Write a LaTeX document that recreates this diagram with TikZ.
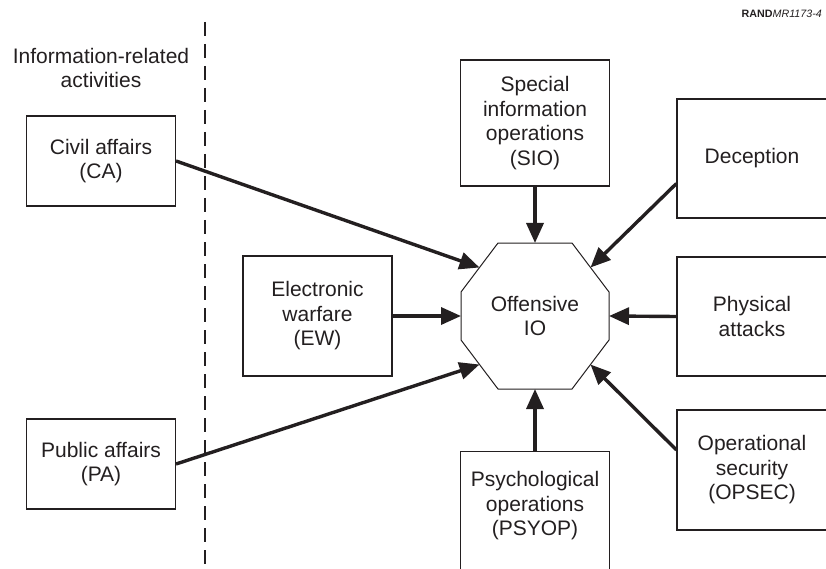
\documentclass[tikz,border=0pt]{standalone}
\usepackage{fontspec}
\setmainfont{Liberation Sans}
\usetikzlibrary{arrows.meta,calc}
\definecolor{ink}{RGB}{35,31,32}
\begin{document}
\begin{tikzpicture}[x=1pt,y=-1pt,
  lbl/.style={font=\fontsize{21}{24.5}\selectfont, text=ink, align=center, inner sep=0pt},
  box/.style={lbl, draw=ink, line width=1.1pt, rectangle, minimum width=149pt},
  feed/.style={draw=ink, line width=3.4pt, -{Triangle[length=20pt,width=17pt]}},
  divider/.style={draw=ink, line width=1.1pt, dash pattern=on 14pt off 8pt}]
\useasboundingbox (0,0) rectangle (826,569);
\clip (0,0) rectangle (826,569);

% tag in the corner
\node[anchor=base east, font=\fontsize{10.7}{12}\selectfont, text=ink, inner sep=0pt] (tag) at (822,18)
  {\textbf{RAND}\textit{MR1173-4}};

% divider between related activities and IO components
\coordinate (dtop) at (205,22);
\coordinate (dbot) at (205,575);
\draw[divider] (dtop) -- (dbot);
\node[lbl] (irl) at (101,68) {Information-related\\activities};

% related activities
\node[box, minimum height=90pt] (ca) at (101,161) {Civil affairs\\(CA)};
\node[box, minimum height=90pt] (pa) at (101,464) {Public affairs\\(PA)};

% central octagon
\coordinate (o1) at (498,243);
\coordinate (o2) at (572,243);
\coordinate (o3) at (609,292);
\coordinate (o4) at (609,340);
\coordinate (o5) at (572,389);
\coordinate (o6) at (498,389);
\coordinate (o7) at (461,340);
\coordinate (o8) at (461,292);
\draw[ink, line width=1pt, fill=white] (o1) -- (o2) -- (o3) -- (o4) -- (o5) -- (o6) -- (o7) -- (o8) -- cycle;
\node[lbl] (io) at (535,316) {Offensive\\IO};
\coordinate (inN)  at ($(o1)!0.5!(o2)$);
\coordinate (inNE) at ($(o2)!0.5!(o3)$);
\coordinate (inE)  at ($(o3)!0.5!(o4)$);
\coordinate (inSE) at ($(o4)!0.5!(o5)$);
\coordinate (inS)  at ($(o5)!0.5!(o6)$);
\coordinate (inSW) at ($(o6)!0.5!(o7)$);
\coordinate (inW)  at ($(o7)!0.5!(o8)$);
\coordinate (inNW) at ($(o8)!0.5!(o1)$);

% IO components
\node[box, minimum height=120pt] (ew) at (317.5,316) {Electronic\\warfare\\(EW)};
\node[box, minimum height=126pt] (sio) at (535,123) {Special\\information\\operations\\(SIO)};
\node[box, minimum width=150pt, minimum height=119pt] (dec) at (752,158.5) {Deception};
\node[box, minimum width=150pt, minimum height=119pt] (phy) at (752,316.5) {Physical\\attacks};
\node[box, minimum width=150pt, minimum height=120pt] (ops) at (752,470) {Operational\\security\\(OPSEC)};
\node[box, minimum height=140pt, anchor=north] (psy) at (535,451) {};
\node[lbl] (psyt) at (535,506) {Psychological\\operations\\(PSYOP)};

% start points on the right-hand boxes
\coordinate (decS) at ([yshift=-25pt]dec.west);
\coordinate (opsS) at ([yshift=20pt]ops.west);

% connectors
\draw[feed] (ca.east) -- (inNW);
\draw[feed] (pa.east) -- (inSW);
\draw[feed] (ew.east) -- (inW);
\draw[feed] (sio.south) -- (inN);
\draw[feed] (decS) -- (inNE);
\draw[feed] (phy.west) -- (inE);
\draw[feed] (opsS) -- (inSE);
\draw[feed] (psy.north) -- (inS);
\end{tikzpicture}
\end{document}
